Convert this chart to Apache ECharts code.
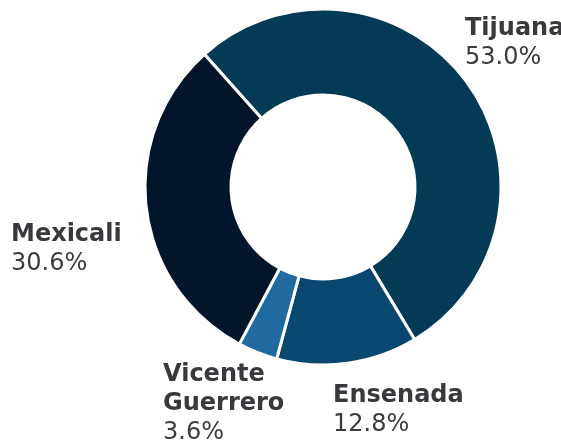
<!DOCTYPE html>
<html>
<head>
<meta charset="utf-8">
<script src="https://cdn.jsdelivr.net/npm/echarts@6/dist/echarts.min.js"></script>
<style>
  html, body { margin: 0; padding: 0; background: #ffffff; }
  #chart { width: 561px; height: 441px; }
</style>
</head>
<body>
<div id="chart"></div>
<script>
// Municipal shares (%), listed clockwise from the Tijuana slice
const municipios = ['Tijuana', 'Ensenada', 'Vicente\nGuerrero', 'Mexicali'];
const porcentajes = [53.0, 12.8, 3.6, 30.6];
const colores = ['#033a56', '#074770', '#206aa0', '#02152a'];

// Top-left corner of each label block
const labelAnchors = [[465, 14], [333, 381], [163, 360], [11, 220]];

const chart = echarts.init(document.getElementById('chart'), null, { renderer: 'canvas' });

chart.setOption({
  animation: false,
  backgroundColor: '#ffffff',
  series: [{
    type: 'pie',
    center: [323, 187],
    radius: [92, 178],
    startAngle: 131.8,
    clockwise: true,
    avoidLabelOverlap: false,
    silent: true,
    itemStyle: { borderColor: '#ffffff', borderWidth: 3 },
    label: {
      show: true,
      position: 'outside',
      formatter: p => '{n|' + p.name.split('\n').join('}\n{n|') + '}\n{v|' + p.value.toFixed(1) + '%}',
      rich: {
        n: { fontFamily: 'DejaVu Sans', fontWeight: 'bold', fontSize: 24, lineHeight: 29, color: '#37393c' },
        v: { fontFamily: 'DejaVu Sans', fontWeight: 'normal', fontSize: 24, lineHeight: 30, color: '#3a3c3f' }
      }
    },
    labelLine: { show: false },
    labelLayout: p => ({
      x: labelAnchors[p.dataIndex][0],
      y: labelAnchors[p.dataIndex][1],
      align: 'left',
      verticalAlign: 'top'
    }),
    data: municipios.map((m, i) => ({
      name: m,
      value: porcentajes[i],
      itemStyle: { color: colores[i] }
    }))
  }]
});
</script>
</body>
</html>
